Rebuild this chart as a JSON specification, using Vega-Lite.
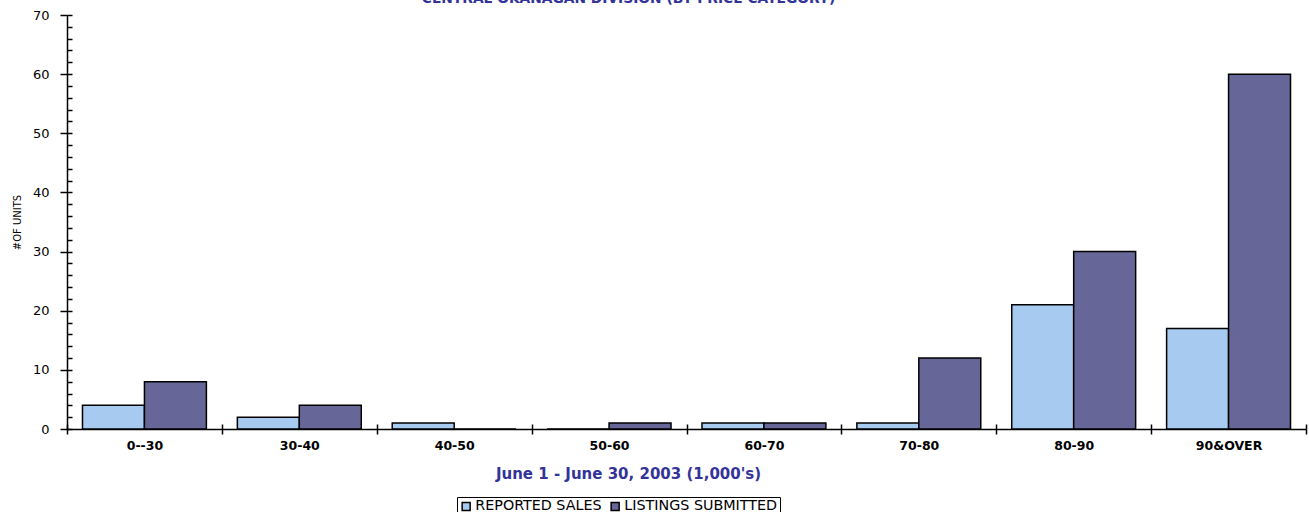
{
  "$schema": "https://vega.github.io/schema/vega-lite/v6.json",
  "width": 1239,
  "height": 414,
  "autosize": {"type": "none"},
  "padding": {"left": 67, "top": 15, "right": 3, "bottom": 83},
  "config": {
    "font": "DejaVu Sans",
    "view": {"stroke": null},
    "axis": {"domainColor": "black", "tickColor": "black", "labelColor": "black", "grid": false, "domainWidth": 1.5, "tickWidth": 1.5}
  },
  "title": {
    "text": "CENTRAL OKANAGAN DIVISION (BY PRICE CATEGORY)",
    "fontSize": 13.8,
    "fontWeight": "bold",
    "color": "#333399",
    "anchor": "middle",
    "frame": "group",
    "dx": -58,
    "offset": -8,
    "baseline": "alphabetic"
  },
  "data": {
    "values": [
      {"category": "0--30", "series": "REPORTED SALES", "units": 4},
      {"category": "0--30", "series": "LISTINGS SUBMITTED", "units": 8},
      {"category": "30-40", "series": "REPORTED SALES", "units": 2},
      {"category": "30-40", "series": "LISTINGS SUBMITTED", "units": 4},
      {"category": "40-50", "series": "REPORTED SALES", "units": 1},
      {"category": "40-50", "series": "LISTINGS SUBMITTED", "units": 0},
      {"category": "50-60", "series": "REPORTED SALES", "units": 0},
      {"category": "50-60", "series": "LISTINGS SUBMITTED", "units": 1},
      {"category": "60-70", "series": "REPORTED SALES", "units": 1},
      {"category": "60-70", "series": "LISTINGS SUBMITTED", "units": 1},
      {"category": "70-80", "series": "REPORTED SALES", "units": 1},
      {"category": "70-80", "series": "LISTINGS SUBMITTED", "units": 12},
      {"category": "80-90", "series": "REPORTED SALES", "units": 21},
      {"category": "80-90", "series": "LISTINGS SUBMITTED", "units": 30},
      {"category": "90&OVER", "series": "REPORTED SALES", "units": 17},
      {"category": "90&OVER", "series": "LISTINGS SUBMITTED", "units": 60}
    ]
  },
  "layer": [
    {
      "mark": {"type": "bar", "stroke": "black", "strokeWidth": 1.5},
      "encoding": {
        "x": {
          "field": "category",
          "type": "nominal",
          "sort": ["0--30", "30-40", "40-50", "50-60", "60-70", "70-80", "80-90", "90&OVER"],
          "scale": {"paddingInner": 0, "paddingOuter": 0},
          "axis": {
            "title": "June 1 - June 30, 2003 (1,000's)",
            "titleColor": "#333399",
            "titleFontSize": 15,
            "titleFontWeight": "bold",
            "titlePadding": 15,
            "titleX": 561,
            "titleAlign": "center",
            "labelAngle": 0,
            "labelFontSize": 12.5,
            "labelFontWeight": "bold",
            "labelPadding": 5,
            "tickBand": "extent",
            "tickSize": 5
          }
        },
        "xOffset": {
          "field": "series",
          "type": "nominal",
          "sort": ["REPORTED SALES", "LISTINGS SUBMITTED"],
          "scale": {"paddingInner": 0, "paddingOuter": 0.25}
        },
        "y": {
          "field": "units",
          "type": "quantitative",
          "scale": {"domain": [0, 70], "nice": false},
          "axis": {
            "title": "#OF UNITS",
            "titleFontSize": 10,
            "titleFontWeight": "normal",
            "titleColor": "black",
            "titlePadding": 10,
            "values": [0, 10, 20, 30, 40, 50, 60, 70],
            "labelFontSize": 13,
            "labelPadding": 11,
            "tickSize": 7
          }
        },
        "color": {
          "field": "series",
          "type": "nominal",
          "sort": ["REPORTED SALES", "LISTINGS SUBMITTED"],
          "scale": {"domain": ["REPORTED SALES", "LISTINGS SUBMITTED"], "range": ["#A6CAF0", "#666699"]},
          "legend": {
            "title": null,
            "orient": "none",
            "legendX": 390,
            "legendY": 482,
            "direction": "horizontal",
            "symbolType": "square",
            "symbolSize": 64,
            "symbolStrokeColor": "black",
            "symbolStrokeWidth": 1.5,
            "symbolOpacity": 1,
            "labelFontSize": 14.3,
            "labelColor": "black",
            "labelOffset": 2,
            "columnPadding": 6,
            "strokeColor": "black",
            "padding": 2
          }
        }
      }
    },
    {
      "mark": {"type": "bar", "opacity": 0},
      "encoding": {
        "x": {
          "field": "category",
          "type": "nominal",
          "sort": ["0--30", "30-40", "40-50", "50-60", "60-70", "70-80", "80-90", "90&OVER"],
          "axis": {"title": null, "labels": false, "domain": false, "tickBand": "extent", "tickSize": -5, "orient": "bottom"}
        },
        "xOffset": {"field": "series", "type": "nominal", "sort": ["REPORTED SALES", "LISTINGS SUBMITTED"]},
        "y": {
          "field": "units",
          "type": "quantitative",
          "axis": {
            "title": null,
            "labels": false,
            "domain": false,
            "orient": "left",
            "tickSize": -5,
            "values": [0, 2, 4, 6, 8, 10, 12, 14, 16, 18, 20, 22, 24, 26, 28, 30, 32, 34, 36, 38, 40, 42, 44, 46, 48, 50, 52, 54, 56, 58, 60, 62, 64, 66, 68, 70]
          }
        }
      }
    }
  ],
  "resolve": {"axis": {"x": "independent", "y": "independent"}}
}
